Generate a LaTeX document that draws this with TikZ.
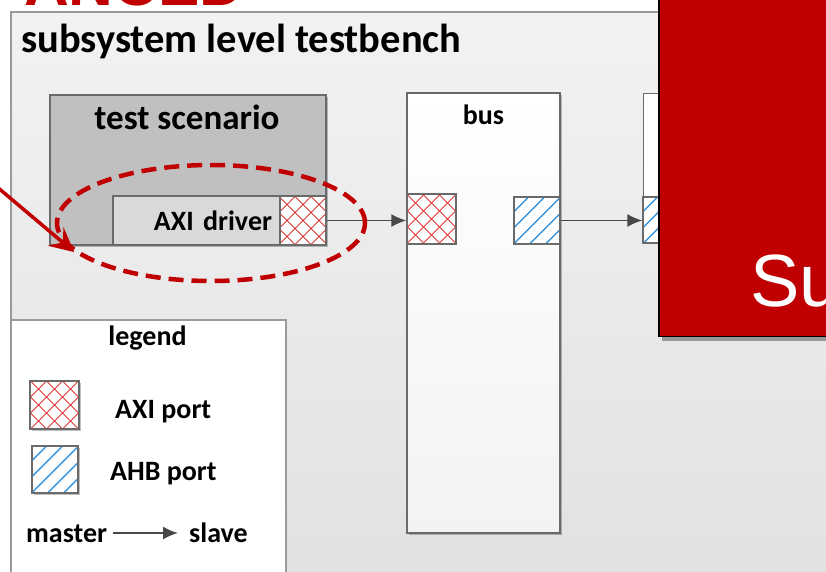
\documentclass[tikz,border=0pt]{standalone}
\usepackage{fontspec}
\setmainfont{Carlito}
\newfontfamily\headfont{Liberation Sans}
\usetikzlibrary{arrows.meta,shapes.geometric,shadows}

\definecolor{panelborder}{HTML}{9A9A9A}
\definecolor{boxborder}{HTML}{6A6A6A}
\definecolor{scenfill}{HTML}{C0C0C0}
\definecolor{drvfill}{HTML}{D9D9D9}
\definecolor{axired}{HTML}{E03A3A}
\definecolor{ahbblue}{HTML}{3A96DC}
\definecolor{hlred}{HTML}{C00000}
\definecolor{wire}{HTML}{484848}

\tikzset{
  lbl/.style={font=\bfseries\fontsize{28}{30}\selectfont, inner sep=0pt},
  boxshadow/.style={drop shadow={shadow xshift=2pt, shadow yshift=-2pt, opacity=0.25, fill=black}},
  blk/.style={draw=boxborder, line width=1.3pt, inner sep=0pt},
  port/.style={blk, fill=white},
  axiport/.style={port, path picture={
      \foreach \k in {-80,-64,...,80}{
        \draw[axired, line width=0.8pt]
          ([xshift=\k pt]path picture bounding box.center) +(-60pt,-60pt) -- +(60pt,60pt)
          ([xshift=\k pt]path picture bounding box.center) +(-60pt,60pt) -- +(60pt,-60pt);
      }}},
  ahbport/.style={port, path picture={
      \foreach \k in {-80,-64,...,80}{
        \draw[ahbblue, line width=1.4pt]
          ([xshift=\k pt]path picture bounding box.center) +(-60pt,-60pt) -- +(60pt,60pt);
      }}},
  wirearrow/.style={draw=wire, line width=1.8pt, -{Latex[length=15pt, width=13pt]}},
}

\begin{document}
\begin{tikzpicture}[x=1pt, y=-1pt]
\useasboundingbox (0,0) rectangle (826,571);
\clip (0,0) rectangle (826,571);
\fill[white] (0,0) rectangle (826,571);

% heading above the testbench, running off the top edge
\node[anchor=base west, inner sep=0pt, text=hlred,
      font=\headfont\bfseries\fontsize{62}{62}\selectfont] (head) at (24,5) {ANCED};

% testbench panel
\node[draw=panelborder, line width=2pt, top color=gray!10, bottom color=gray!24,
      minimum width=840pt, minimum height=600pt, inner sep=0pt, anchor=north west]
      (tb) at (10,11) {};
\node[anchor=base west, font=\bfseries\fontsize{40.5}{42}\selectfont, inner sep=0pt]
      (tbtitle) at (21,52) {subsystem level testbench};

% test scenario with its AXI driver
\node[blk, fill=scenfill, boxshadow, minimum width=276pt, minimum height=150pt]
      (scen) at (188,170) {};
\node[lbl, anchor=base, font=\bfseries\fontsize{35}{36}\selectfont] (scenlbl) at (187,129) {test scenario};
\node[blk, fill=drvfill, minimum width=167pt, minimum height=49pt,
      text width=151pt, align=right, lbl] (drv) at (196.5,220.5) {AXI driver};
\node[axiport, minimum width=46pt, minimum height=49pt] (drvport) at (303,220.5) {};

% bus
\node[blk, top color=white, bottom color=gray!10, boxshadow,
      minimum width=153pt, minimum height=440pt] (bus) at (483.5,313) {};
\node[lbl, anchor=base] (buslbl) at (483.5,124) {bus};
\node[axiport, minimum width=49pt, minimum height=50pt] (busaxi) at (431.5,219) {};
\node[ahbport, minimum width=46pt, minimum height=47pt] (busahb) at (537,220.5) {};

% next block, mostly hidden by the overlay
\node[blk, fill=white, minimum width=160pt, minimum height=150pt,
      anchor=north west] (nxt) at (643,93) {};
\node[ahbport, minimum width=47pt, minimum height=46pt] (nxtahb) at (666.5,220) {};

\draw[wirearrow] (drvport.east) -- (drvport.east -| busaxi.west);
\draw[wirearrow] (busahb.east) -- (busahb.east -| nxtahb.west);

% legend
\node[draw=panelborder, line width=1.6pt, fill=white, minimum width=275pt,
      minimum height=300pt, anchor=north west, inner sep=0pt] (leg) at (10,319) {};
\node[lbl, anchor=base] (leglbl) at (147.5,345) {legend};
\node[axiport, boxshadow, minimum width=49pt, minimum height=48pt] (legaxi) at (54.5,405) {};
\node[lbl, anchor=base west] (legaxilbl) at (115,418) {AXI port};
\node[ahbport, boxshadow, minimum width=46pt, minimum height=47pt] (legahb) at (55,469.5) {};
\node[lbl, anchor=base west] (legahblbl) at (110,480) {AHB port};
\node[lbl, anchor=base west] (master) at (26,542) {master};
\node[lbl, anchor=base west] (slave) at (189,542) {slave};
\draw[wirearrow] ([xshift=6pt]master.east |- 0,533) -- ([xshift=-11pt]slave.west |- 0,533);

% highlight of the AXI driver
\node[draw=hlred, dashed, dash pattern=on 15pt off 8pt, line width=4.5pt, ellipse,
      minimum width=308pt, minimum height=116pt, inner sep=0pt] (hl) at (211,223) {};
\coordinate (pointer) at (-10,181);
\draw[hlred, line width=3.5pt, -{Stealth[length=24pt, width=24pt, inset=9pt]}]
      (pointer) -- (hl.192);

% red overlay panel
\node[draw=black, line width=1.5pt, fill=hlred,
      drop shadow={shadow xshift=3pt, shadow yshift=-5pt, opacity=0.35, fill=black},
      minimum width=200pt, minimum height=400pt, anchor=south west, inner sep=0pt]
      (overlay) at (658,337) {};
\node[anchor=base west, inner sep=0pt, text=white,
      font=\headfont\fontsize{74}{74}\selectfont] (ovtext) at (750,306) {Su};
\end{tikzpicture}
\end{document}
